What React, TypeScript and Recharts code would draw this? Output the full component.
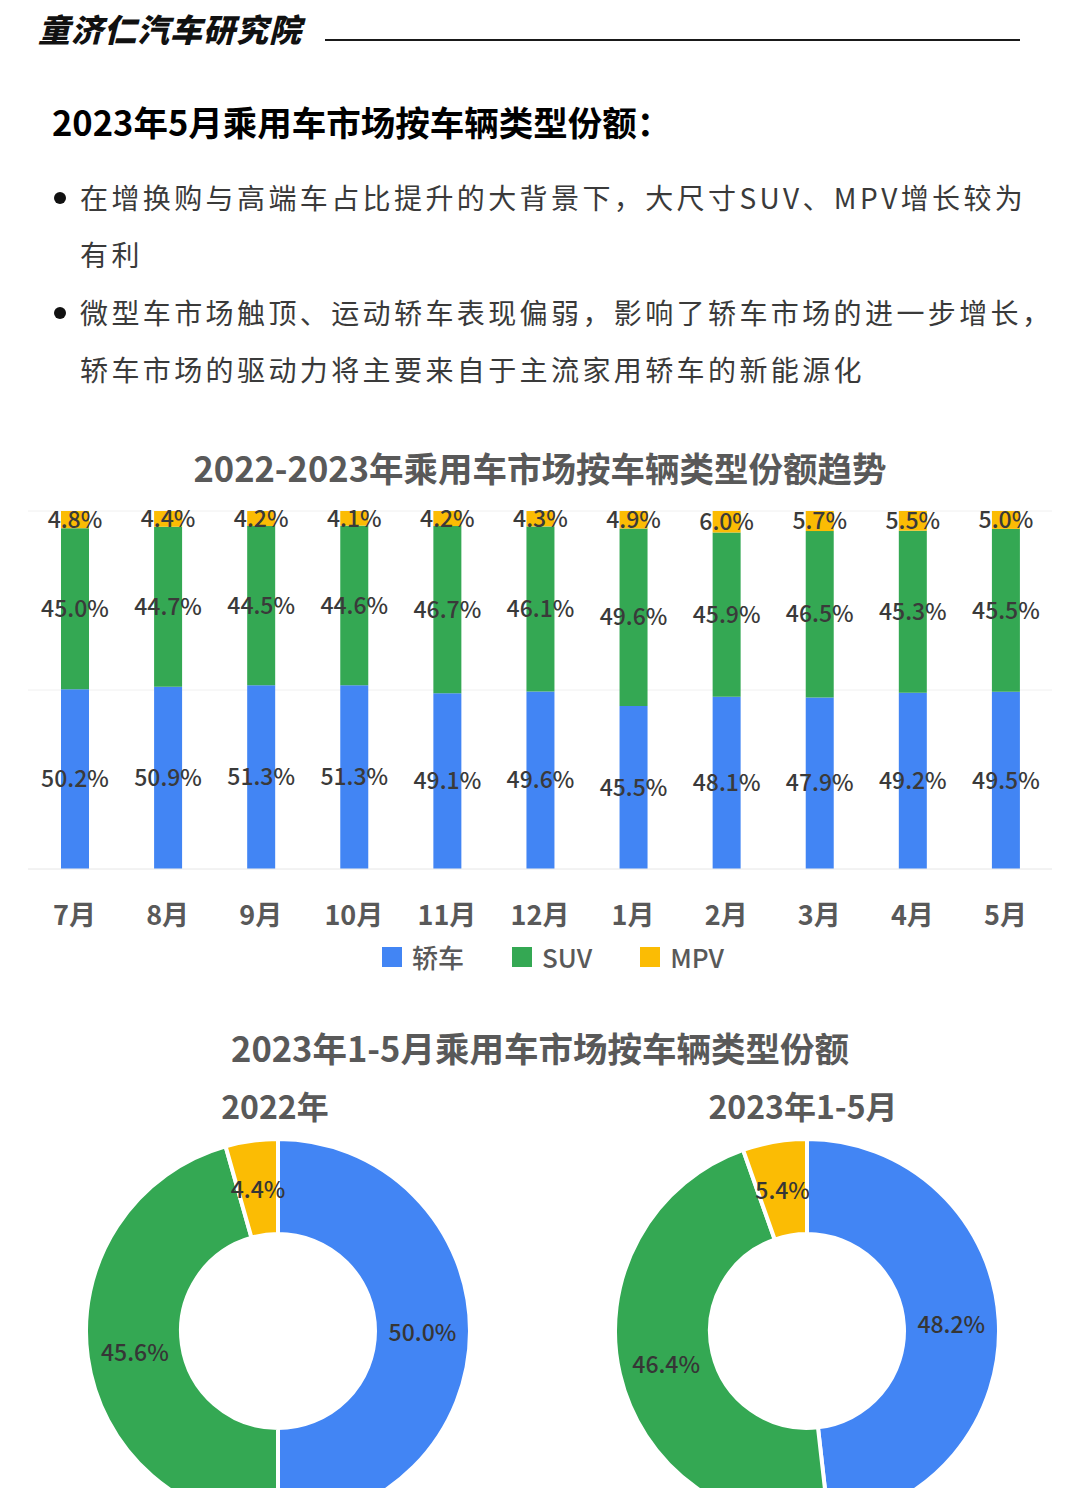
import React from 'react';
import { BarChart, Bar, XAxis, YAxis, CartesianGrid, LabelList, Legend, PieChart, Pie, Cell } from 'recharts';

const months = ['7月', '8月', '9月', '10月', '11月', '12月', '1月', '2月', '3月', '4月', '5月'];
const sedan = [50.2, 50.9, 51.3, 51.3, 49.1, 49.6, 45.5, 48.1, 47.9, 49.2, 49.5];
const suv = [45.0, 44.7, 44.5, 44.6, 46.7, 46.1, 49.6, 45.9, 46.5, 45.3, 45.5];
const mpv = [4.8, 4.4, 4.2, 4.1, 4.2, 4.3, 4.9, 6.0, 5.7, 5.5, 5.0];

const typeNames = ['轿车', 'SUV', 'MPV'];
const share2022 = [50.0, 45.6, 4.4];
const share2023 = [48.2, 46.4, 5.4];
const pieTitles = ['2022年', '2023年1-5月'];

const bullets = [
  ['在增换购与高端车占比提升的大背景下，大尺寸SUV、MPV增长较为', '有利'],
  ['微型车市场触顶、运动轿车表现偏弱，影响了轿车市场的进一步增长，', '轿车市场的驱动力将主要来自于主流家用轿车的新能源化'],
];

const COLORS = ['#4285f4', '#34a853', '#fbbc04'];
const FONT = '"Noto Sans CJK SC", "Noto Sans", sans-serif';
const GRAY = '#595959';

const barData = months.map((m, i) => ({ month: m, sedan: sedan[i], suv: suv[i], mpv: mpv[i] }));
const pie2022 = typeNames.map((n, i) => ({ name: n, value: share2022[i] }));
const pie2023 = typeNames.map((n, i) => ({ name: n, value: share2023[i] }));

const pct = (v: any) => `${Number(v).toFixed(1)}%`;

const RADIAN = Math.PI / 180;
const renderPieLabel = ({ cx, cy, midAngle, innerRadius, outerRadius, value }: any) => {
  const r = (innerRadius + outerRadius) / 2;
  const x = cx + r * Math.cos(-midAngle * RADIAN);
  const y = cy + r * Math.sin(-midAngle * RADIAN);
  return (
    <text x={x} y={y} textAnchor="middle" dominantBaseline="central" fill="#363636" fontSize={23} fontWeight={500} fontFamily={FONT}>
      {pct(value)}
    </text>
  );
};

const renderLegend = () => (
  <div style={{ display: 'flex', justifyContent: 'center', alignItems: 'center', height: 40, paddingLeft: 26, fontFamily: FONT }}>
    {typeNames.map((n, i) => (
      <div key={n} style={{ display: 'flex', alignItems: 'center', marginRight: i < 2 ? 48 : 0 }}>
        <span style={{ width: 20, height: 20, background: COLORS[i], display: 'inline-block', marginRight: 10 }} />
        <span style={{ fontSize: 26, color: GRAY, fontWeight: 500, lineHeight: '30px' }}>{n}</span>
      </div>
    ))}
  </div>
);

const Text = ({ x, y, size, children, style }: any) => (
  <div style={{ position: 'absolute', left: x, top: y - size * 0.6, fontSize: size, lineHeight: `${size * 1.2}px`, whiteSpace: 'nowrap', fontFamily: FONT, ...style }}>
    {children}
  </div>
);

const Centered = ({ cx, y, size, children, style }: any) => (
  <div style={{ position: 'absolute', left: cx - 400, width: 800, textAlign: 'center', top: y - size * 0.6, fontSize: size, lineHeight: `${size * 1.2}px`, whiteSpace: 'nowrap', fontFamily: FONT, ...style }}>
    {children}
  </div>
);

export default function App() {
  return (
    <div style={{ position: 'relative', width: 1080, height: 1488, background: '#fff', overflow: 'hidden' }}>
      <style>{'body{margin:0}'}</style>

      {/* header */}
      <Text x={38} y={28} size={32} style={{ fontStyle: 'italic', fontWeight: 900, color: '#111', letterSpacing: 1 }}>童济仁汽车研究院</Text>
      <div style={{ position: 'absolute', left: 325, top: 39, width: 695, height: 2, background: '#1a1a1a' }} />

      <Text x={52} y={122} size={34.5} style={{ fontWeight: 700, color: '#000' }}>2023年5月乘用车市场按车辆类型份额：</Text>

      {bullets.map((lines, bi) => (
        <React.Fragment key={bi}>
          <div style={{ position: 'absolute', left: 54, top: 198 + bi * 115 - 6, width: 12, height: 12, borderRadius: 6, background: '#111' }} />
          {lines.map((ln, li) => (
            <Text key={li} x={80} y={198 + bi * 115 + li * 57} size={28} style={{ color: '#3a3a3a', letterSpacing: 3.4 }}>{ln}</Text>
          ))}
        </React.Fragment>
      ))}

      <Centered cx={540} y={468} size={34.5} style={{ fontWeight: 700, color: GRAY }}>2022-2023年乘用车市场按车辆类型份额趋势</Centered>

      <div style={{ position: 'absolute', left: 0, top: 490 }}>
        <BarChart width={1080} height={487} data={barData} margin={{ top: 21, right: 28, left: 28, bottom: 0 }}>
          <CartesianGrid vertical={false} stroke="#f0f0f0" />
          <YAxis hide width={0} domain={[0, 100]} ticks={[0, 50, 100]} allowDataOverflow />
          <XAxis
            dataKey="month"
            interval={0}
            axisLine={{ stroke: '#eeeeee' }}
            tickLine={false}
            tickMargin={31}
            height={68}
            tick={{ fill: GRAY, fontSize: 27, fontWeight: 700, fontFamily: FONT }}
          />
          <Legend verticalAlign="bottom" content={renderLegend} />
          {(['sedan', 'suv', 'mpv'] as const).map((k, i) => (
            <Bar key={k} dataKey={k} name={typeNames[i]} stackId="a" fill={COLORS[i]} barSize={28} isAnimationActive={false}>
              <LabelList dataKey={k} position="center" formatter={pct} fill="#3a3a3a" fontSize={23} fontWeight={500} fontFamily={FONT} />
            </Bar>
          ))}
        </BarChart>
      </div>

      <Centered cx={540} y={1048} size={34.5} style={{ fontWeight: 700, color: GRAY }}>2023年1-5月乘用车市场按车辆类型份额</Centered>
      <Centered cx={275} y={1105} size={32} style={{ fontWeight: 700, color: GRAY }}>{pieTitles[0]}</Centered>
      <Centered cx={803} y={1105} size={32} style={{ fontWeight: 700, color: GRAY }}>{pieTitles[1]}</Centered>

      <div style={{ position: 'absolute', left: 0, top: 1100 }}>
        <PieChart width={1080} height={388} margin={{ top: 0, right: 0, bottom: 0, left: 0 }}>
          <Pie data={pie2022} dataKey="value" cx={278} cy={231} innerRadius={97} outerRadius={192} startAngle={90} endAngle={-270}
            label={renderPieLabel} labelLine={false} isAnimationActive={false}>
            {pie2022.map((d, i) => <Cell key={d.name} fill={COLORS[i]} stroke="#fff" strokeWidth={4} />)}
          </Pie>
          <Pie data={pie2023} dataKey="value" cx={807} cy={231} innerRadius={97} outerRadius={192} startAngle={90} endAngle={-270}
            label={renderPieLabel} labelLine={false} isAnimationActive={false}>
            {pie2023.map((d, i) => <Cell key={d.name} fill={COLORS[i]} stroke="#fff" strokeWidth={4} />)}
          </Pie>
        </PieChart>
      </div>
    </div>
  );
}
